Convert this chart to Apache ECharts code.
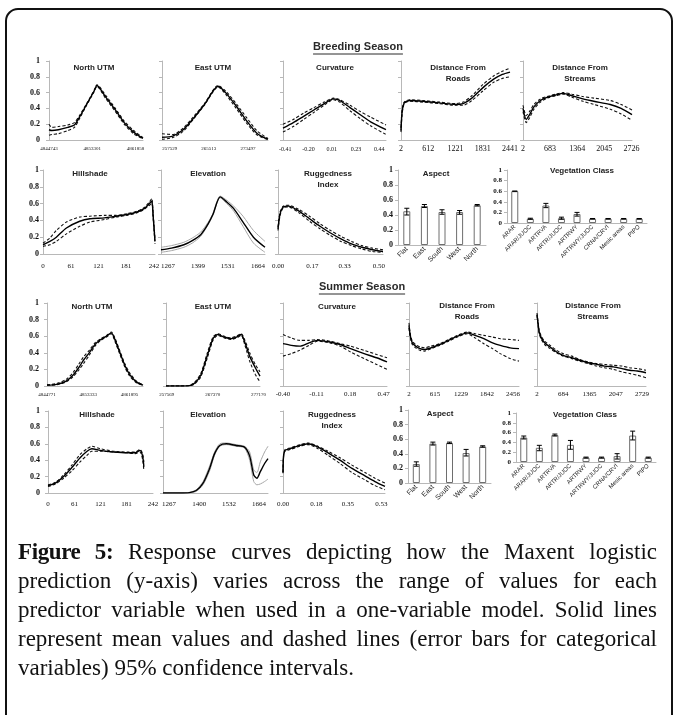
<!DOCTYPE html>
<html><head><meta charset="utf-8">
<script src="https://cdn.jsdelivr.net/npm/echarts@6/dist/echarts.min.js"></script>
<style>
html,body{margin:0;padding:0;width:678px;height:715px;overflow:hidden;background:#fff;}
#frame{position:absolute;left:5px;top:8px;width:664px;height:760px;border:2px solid #111;border-radius:13px;box-sizing:content-box;}
#chart{position:absolute;left:0;top:0;width:678px;height:715px;}
#caption{position:absolute;left:18px;top:537px;width:639px;font-family:'Liberation Serif','Times New Roman',serif;font-size:23px;line-height:29px;color:#111;}
#caption div{text-align:justify;text-align-last:justify;}
#caption div.last{text-align-last:left;}
#caption b{letter-spacing:-0.4px;}
</style></head><body>
<div id="frame"></div>
<div id="chart"></div>
<div id="caption">
<div><b>Figure 5:</b> Response curves depicting how the Maxent logistic</div>
<div>prediction (y-axis) varies across the range of values for each</div>
<div>predictor variable when used in a one-variable model. Solid lines</div>
<div>represent mean values and dashed lines (error bars for categorical</div>
<div class="last">variables) 95% confidence intervals.</div>
</div>
<script>
// ===================== DATA: Breeding season =====================
const bNorthTicks = ['4844743','4853301','4861858'];
const bNorthX    = [4844743,4845301,4846603,4848464,4849766,4850696,4852184,4853672,4854231,4855905,4857765,4859625,4861486,4863346];
const bNorthMean = [.13,.12,.13,.16,.19,.28,.45,.62,.69,.55,.39,.22,.10,.02];
const bNorthLo   = [.06,.07,.08,.12,.16,.26,.44,.61,.68,.53,.37,.20,.08,.015];
const bNorthHi   = [.20,.16,.17,.19,.22,.30,.46,.63,.70,.57,.41,.24,.12,.03];

const bEastTicks = ['257529','265513','273497'];
const bEastX    = [255970,258133,260296,262459,264622,267434,268948,271111,273274,275437,277600];
const bEastMean = [.035,.05,.13,.28,.45,.68,.60,.43,.24,.08,.01];
const bEastLo   = [.01,.03,.11,.27,.44,.67,.58,.40,.21,.06,.005];
const bEastHi   = [.08,.07,.15,.30,.46,.69,.62,.46,.28,.11,.02];

const bCurvTicks = ['-0.41','-0.20','0.01','0.23','0.44'];
const bCurvX    = [-0.43,-0.337,-0.244,-0.151,-0.058,0.026,0.082,0.175,0.268,0.361,0.50];
const bCurvMean = [.15,.22,.30,.38,.46,.52,.50,.41,.32,.23,.13];
const bCurvLo   = [.10,.17,.26,.35,.44,.51,.48,.37,.27,.18,.07];
const bCurvHi   = [.20,.26,.34,.41,.48,.53,.51,.44,.36,.29,.19];

const bRoadTicks = ['2','612','1221','1831','2441'];
const bRoadX    = [2,26,75,197,490,856,1222,1392,1587,1831,2075,2270,2441];
const bRoadMean = [.12,.35,.47,.50,.49,.47,.45,.46,.53,.66,.77,.83,.86];
const bRoadLo   = [.10,.32,.46,.49,.48,.46,.44,.44,.50,.62,.73,.78,.80];
const bRoadHi   = [.15,.38,.48,.51,.50,.48,.46,.48,.56,.70,.81,.87,.91];

const bStreamTicks = ['2','683','1364','2045','2726'];
const bStreamX    = [2,84,166,276,440,604,823,1015,1234,1508,1782,2192,2466,2740];
const bStreamMean = [.40,.26,.32,.42,.50,.54,.57,.59,.56,.52,.49,.45,.40,.32];
const bStreamLo   = [.36,.22,.28,.39,.48,.53,.56,.58,.54,.49,.45,.39,.33,.25];
const bStreamHi   = [.44,.31,.36,.45,.52,.55,.58,.60,.58,.55,.53,.50,.45,.38];

const bHillTicks = ['0','61','121','181','242'];
const bHillX    = [0,15,29,51,80,102,134,159,183,205,220,232,237,240,244];
const bHillMean = [.11,.15,.20,.31,.39,.42,.43,.45,.47,.50,.54,.60,.63,.45,.15];
const bHillLo   = [.09,.11,.15,.24,.33,.38,.41,.44,.46,.49,.53,.58,.61,.42,.12];
const bHillHi   = [.13,.19,.28,.38,.44,.45,.46,.46,.48,.51,.55,.62,.66,.48,.18];

const bElevTicks = ['1267','1399','1531','1664'];
const bElevX    = [1236,1282,1337,1374,1411,1442,1465,1497,1526,1557,1598,1644,1695];
const bElevMean = [.05,.07,.11,.16,.23,.35,.47,.68,.62,.54,.38,.20,.08];
const bElevLo   = [.02,.04,.08,.13,.21,.34,.46,.67,.60,.51,.33,.13,.02];
const bElevHi   = [.08,.10,.14,.19,.26,.37,.48,.69,.64,.57,.45,.28,.15];

const bRugTicks = ['0.00','0.17','0.33','0.50'];
const bRugX    = [0,0.0104,0.026,0.052,0.104,0.156,0.208,0.26,0.312,0.364,0.416,0.468,0.52];
const bRugMean = [.30,.48,.56,.57,.51,.42,.33,.25,.18,.12,.08,.05,.03];
const bRugLo   = [.28,.46,.55,.56,.49,.39,.30,.22,.15,.10,.06,.03,.02];
const bRugHi   = [.32,.50,.57,.58,.53,.45,.36,.28,.21,.15,.10,.07,.05];

const aspectCats = ['Flat','East','South','West','North'];
const bAspMean = [.45,.52,.44,.44,.53];
const bAspLo   = [.40,.50,.41,.41,.52];
const bAspHi   = [.49,.54,.47,.46,.54];

const vegCats = ['ARAR','ARAR/JUOC','ARTRVA','ARTR/JUOC','ARTRWY','ARTRWY/JUOC','CRNA/CRVI','Mesic areas','PIPO'];
const bVegMean = [.60,.08,.33,.09,.17,.08,.08,.08,.08];
const bVegLo   = [.60,.07,.29,.07,.13,.075,.075,.075,.075];
const bVegHi   = [.60,.09,.37,.11,.20,.085,.085,.085,.085];

// ===================== DATA: Summer season =====================
const sNorthTicks = ['4844771','4853333','4861895'];
const sNorthX    = [4844771,4846761,4848751,4850144,4851338,4852333,4853527,4854721,4855915,4857109,4858104,4858900,4859895,4860890,4861885,4863278,4864670];
const sNorthMean = [.01,.02,.06,.13,.22,.31,.40,.50,.56,.60,.64,.55,.40,.25,.14,.05,.01];
const sNorthLo   = [.01,.015,.05,.11,.19,.27,.37,.48,.55,.59,.63,.53,.38,.23,.12,.04,.01];
const sNorthHi   = [.015,.03,.08,.16,.26,.35,.43,.52,.57,.61,.65,.57,.42,.27,.16,.06,.015];

const sEastTicks = ['257569','267370','277170'];
const sEastX    = [257400,260415,262425,263430,264837,266244,267450,268455,269862,271269,272475,273480,274284,275289,276495,277500];
const sEastMean = [0,0,.005,.03,.13,.37,.57,.62,.59,.57,.59,.62,.52,.36,.22,.12];
const sEastLo   = [0,0,.003,.02,.11,.34,.55,.61,.58,.56,.58,.61,.49,.30,.14,.05];
const sEastHi   = [0,0,.008,.04,.15,.40,.59,.63,.60,.58,.60,.63,.55,.40,.26,.17];

const sCurvTicks = ['-0.40','-0.11','0.18','0.47'];
const sCurvX    = [-0.40,-0.328,-0.256,-0.175,-0.103,0.005,0.095,0.185,0.302,0.41,0.50];
const sCurvMean = [.51,.49,.48,.52,.55,.53,.50,.45,.39,.34,.29];
const sCurvLo   = [.36,.39,.43,.49,.54,.52,.48,.41,.33,.26,.20];
const sCurvHi   = [.62,.58,.55,.55,.56,.54,.51,.48,.43,.38,.34];

const sRoadTicks = ['2','615','1229','1842','2456'];
const sRoadX    = [2,28,80,158,262,366,522,729,937,1145,1379,1561,1769,1976,2158,2392,2600];
const sRoadMean = [.73,.62,.52,.48,.45,.44,.46,.50,.55,.60,.64,.61,.57,.52,.49,.46,.45];
const sRoadLo   = [.70,.60,.50,.46,.43,.42,.45,.49,.54,.59,.63,.58,.51,.45,.39,.33,.30];
const sRoadHi   = [.76,.64,.54,.50,.47,.46,.48,.51,.56,.61,.65,.63,.61,.59,.57,.56,.55];

const sStreamTicks = ['2','684','1365','2047','2729'];
const sStreamX    = [2,30,59,115,200,342,512,681,908,1106,1333,1559,1757,1984,2210,2408,2607,2833];
const sStreamMean = [.86,.75,.65,.58,.52,.47,.41,.37,.34,.31,.28,.26,.24,.23,.21,.19,.18,.16];
const sStreamLo   = [.85,.73,.63,.56,.50,.45,.40,.36,.33,.30,.27,.24,.22,.20,.17,.15,.13,.10];
const sStreamHi   = [.88,.77,.67,.60,.54,.49,.43,.39,.36,.32,.29,.27,.26,.25,.24,.22,.21,.19];

const sHillTicks = ['0','61','121','181','242'];
const sHillX    = [0,17,36,55,74,90,101,120,151,182,201,212,218,221];
const sHillMean = [.09,.12,.20,.31,.43,.51,.54,.52,.50,.49,.49,.52,.45,.32];
const sHillLo   = [.08,.11,.18,.27,.38,.46,.51,.51,.50,.49,.48,.50,.41,.27];
const sHillHi   = [.10,.13,.22,.34,.47,.54,.57,.54,.51,.50,.50,.53,.48,.38];

const sElevTicks = ['1267','1400','1532','1664'];
const sElevX    = [1240,1314,1357,1387,1417,1446,1468,1491,1520,1563,1600,1623,1641,1655,1670,1689,1704];
const sElevMean = [0,0,.005,.03,.12,.30,.48,.58,.60,.58,.56,.45,.22,.18,.26,.36,.42];
const sElevLo   = [0,0,.003,.02,.10,.27,.46,.57,.59,.57,.55,.40,.14,.10,.11,.14,.17];
const sElevHi   = [0,0,.008,.04,.14,.33,.50,.60,.61,.59,.57,.50,.28,.25,.38,.50,.57];

const sRugTicks = ['0.00','0.18','0.35','0.53'];
const sRugX    = [0,0.003,0.011,0.038,0.092,0.135,0.189,0.243,0.307,0.372,0.442,0.496,0.55];
const sRugMean = [.25,.45,.52,.54,.58,.60,.56,.49,.40,.30,.21,.14,.08];
const sRugLo   = [.24,.44,.51,.53,.57,.59,.54,.46,.36,.25,.16,.09,.04];
const sRugHi   = [.26,.46,.53,.55,.59,.61,.57,.51,.43,.34,.25,.18,.12];

const sAspMean = [.26,.54,.55,.41,.50];
const sAspLo   = [.23,.52,.54,.37,.49];
const sAspHi   = [.29,.56,.56,.46,.51];

const sVegMean = [.50,.29,.55,.35,.09,.09,.12,.54,.09];
const sVegLo   = [.47,.23,.53,.26,.08,.08,.06,.45,.08];
const sVegHi   = [.53,.34,.57,.44,.10,.10,.17,.63,.10];

// ===================== LAYOUT =====================
const SERIF = "'Liberation Serif','Times New Roman',serif";
const SANS = "'Liberation Sans',Arial,sans-serif";

const linePanels = [
  {title:['North UTM'], tx:94, ty:68, box:[49,61,143,140], xmin:4844743, xmax:4863346, ticks:bNorthTicks, fs:5, lm:6, x:bNorthX, m:bNorthMean, lo:bNorthLo, hi:bNorthHi, yl:true, ym:9},
  {title:['East UTM'], tx:213, ty:68, box:[162,61,268,140], xmin:255970, xmax:277600, ticks:bEastTicks, fs:5, lm:6, x:bEastX, m:bEastMean, lo:bEastLo, hi:bEastHi},
  {title:['Curvature'], tx:335, ty:68, box:[283,61,386,140], xmin:-0.43, xmax:0.50, ticks:bCurvTicks, fs:6, lm:6, x:bCurvX, m:bCurvMean, lo:bCurvLo, hi:bCurvHi},
  {title:['Distance From','Roads'], tx:458, ty:68, box:[401,61,510,140], xmin:2, xmax:2441, ticks:bRoadTicks, fs:8, lm:5, x:bRoadX, m:bRoadMean, lo:bRoadLo, hi:bRoadHi},
  {title:['Distance From','Streams'], tx:580, ty:68, box:[523,61,632,140], xmin:2, xmax:2740, ticks:bStreamTicks, fs:8, lm:5, x:bStreamX, m:bStreamMean, lo:bStreamLo, hi:bStreamHi},
  {title:['Hillshade'], tx:90, ty:174, box:[43,170,155,254], xmin:0, xmax:244, ticks:bHillTicks, fs:7, lm:9, x:bHillX, m:bHillMean, lo:bHillLo, hi:bHillHi, yl:true, ym:4},
  {title:['Elevation'], tx:208, ty:174, box:[161,170,265,254], xmin:1236, xmax:1695, ticks:bElevTicks, fs:7, lm:9, x:bElevX, m:bElevMean, lo:bElevLo, hi:bElevHi, gray:true},
  {title:['Ruggedness','Index'], tx:328, ty:174, box:[278,170,383,254], xmin:0, xmax:0.52, ticks:bRugTicks, fs:7, lm:9, x:bRugX, m:bRugMean, lo:bRugLo, hi:bRugHi},
  {title:['North UTM'], tx:92, ty:307, box:[47,303,143,386], xmin:4844771, xmax:4864670, ticks:sNorthTicks, fs:5, lm:6, x:sNorthX, m:sNorthMean, lo:sNorthLo, hi:sNorthHi, yl:true, ym:8},
  {title:['East UTM'], tx:213, ty:307, box:[166,303,260,386], xmin:257400, xmax:277500, ticks:sEastTicks, fs:5, lm:6, x:sEastX, m:sEastMean, lo:sEastLo, hi:sEastHi},
  {title:['Curvature'], tx:337, ty:307, box:[283,303,387,386], xmin:-0.40, xmax:0.50, ticks:sCurvTicks, fs:7, lm:5, x:sCurvX, m:sCurvMean, lo:sCurvLo, hi:sCurvHi},
  {title:['Distance From','Roads'], tx:467, ty:306, box:[409,303,519,386], xmin:2, xmax:2600, ticks:sRoadTicks, fs:7, lm:5, x:sRoadX, m:sRoadMean, lo:sRoadLo, hi:sRoadHi},
  {title:['Distance From','Streams'], tx:593, ty:306, box:[537,303,646,386], xmin:2, xmax:2833, ticks:sStreamTicks, fs:7, lm:5, x:sStreamX, m:sStreamMean, lo:sStreamLo, hi:sStreamHi},
  {title:['Hillshade'], tx:97, ty:415, box:[48,411,153,493], xmin:0, xmax:242, ticks:sHillTicks, fs:7, lm:8, x:sHillX, m:sHillMean, lo:sHillLo, hi:sHillHi, yl:true, ym:8},
  {title:['Elevation'], tx:208, ty:415, box:[163,411,268,493], xmin:1240, xmax:1704, ticks:sElevTicks, fs:7, lm:8, x:sElevX, m:sElevMean, lo:sElevLo, hi:sElevHi, gray:true},
  {title:['Ruggedness','Index'], tx:332, ty:415, box:[283,411,385,493], xmin:0, xmax:0.55, ticks:sRugTicks, fs:7, lm:8, x:sRugX, m:sRugMean, lo:sRugLo, hi:sRugHi}
];

const barPanels = [
  {title:['Aspect'], tx:436, ty:174, box:[398,170,486,245], cats:aspectCats, m:bAspMean, lo:bAspLo, hi:bAspHi, fs:7, yfs:8, bw:7},
  {title:['Vegetation Class'], tx:582, ty:171, box:[507,170,647,223], cats:vegCats, m:bVegMean, lo:bVegLo, hi:bVegHi, fs:6, yfs:7, bw:7},
  {title:['Aspect'], tx:440, ty:414, box:[408,410,491,483], cats:aspectCats, m:sAspMean, lo:sAspLo, hi:sAspHi, fs:7, yfs:8, bw:7},
  {title:['Vegetation Class'], tx:585, ty:415, box:[516,413,656,462], cats:vegCats, m:sVegMean, lo:sVegLo, hi:sVegHi, fs:6, yfs:7, bw:7}
];

const seasonTitles = [
  {text:'Breeding Season', x:358, y:47},
  {text:'Summer Season', x:362, y:287}
];

// ===================== BUILD =====================
const grids = [], xAxes = [], yAxes = [], series = [], graphics = [];
const AXIS = '#b8b8b8';
const pairs = (xs, ys) => xs.map((x, i) => [x, ys[i]]);

function addTitle(lines, x, y) {
  lines.forEach((t, k) => graphics.push({type:'text', x:x, y:y + k*10.5, silent:true,
    style:{text:t, align:'center', verticalAlign:'middle', fontSize:8, fontWeight:'bold', fontFamily:SANS, fill:'#222'}}));
}
function gridOf(b) { return {left:b[0], top:b[1], width:b[2]-b[0], height:b[3]-b[1], containLabel:false}; }

linePanels.forEach((p) => {
  const gi = grids.length;
  grids.push(gridOf(p.box));
  const ticks = p.ticks, vals = ticks.map(Number);
  xAxes.push({type:'value', gridIndex:gi, min:p.xmin, max:p.xmax,
    axisLine:{show:true, onZero:false, lineStyle:{color:AXIS, width:1}}, axisTick:{show:false}, splitLine:{show:false},
    axisLabel:{show:true, customValues:vals, margin:p.lm, fontSize:p.fs, fontFamily:SERIF, color:'#111',
      formatter:(v) => { let b = 0; vals.forEach((t, k) => { if (Math.abs(t - v) < Math.abs(vals[b] - v)) b = k; }); return ticks[b]; }}});
  yAxes.push({type:'value', gridIndex:gi, min:0, max:1, interval:0.2,
    axisLine:{show:true, onZero:false, lineStyle:{color:AXIS, width:1}}, axisTick:{show:true, length:3, lineStyle:{color:AXIS}},
    splitLine:{show:false},
    axisLabel:{show:!!p.yl, margin:p.ym || 6, fontSize:8, fontWeight:'bold', fontFamily:SERIF, color:'#111'}});
  const ci = p.gray ? {color:'#a6a6a6', width:1, type:'solid'} : {color:'#111', width:1.1, type:[3,2]};
  [p.lo, p.hi].forEach((arr) => series.push({type:'line', xAxisIndex:gi, yAxisIndex:gi, data:pairs(p.x, arr),
    showSymbol:false, smooth:0.25, lineStyle:ci, silent:true, z:2}));
  series.push({type:'line', xAxisIndex:gi, yAxisIndex:gi, data:pairs(p.x, p.m), showSymbol:false, smooth:0.25,
    lineStyle:{color:'#000', width:1.4}, silent:true, z:3});
  addTitle(p.title, p.tx, p.ty);
});

barPanels.forEach((p) => {
  const gi = grids.length;
  grids.push(gridOf(p.box));
  xAxes.push({type:'category', gridIndex:gi, data:p.cats,
    axisLine:{show:true, onZero:false, lineStyle:{color:AXIS}}, axisTick:{show:false},
    axisLabel:{interval:0, rotate:45, margin:3, fontSize:p.fs, fontFamily:SANS, color:'#222'}});
  yAxes.push({type:'value', gridIndex:gi, min:0, max:1, interval:0.2,
    axisLine:{show:true, onZero:false, lineStyle:{color:AXIS}}, axisTick:{show:true, length:3, lineStyle:{color:AXIS}},
    splitLine:{show:false},
    axisLabel:{margin:5, fontSize:p.yfs, fontWeight:'bold', fontFamily:SERIF, color:'#111'}});
  series.push({type:'bar', xAxisIndex:gi, yAxisIndex:gi, data:p.m, barWidth:p.bw,
    itemStyle:{color:'#fff', borderColor:'#6e6e6e', borderWidth:1}, silent:true});
  series.push({type:'custom', xAxisIndex:gi, yAxisIndex:gi, silent:true, z:5,
    data:p.cats.map((c, i) => [i, p.lo[i], p.hi[i]]),
    encode:{x:0, y:[1,2]},
    renderItem:(params, api) => {
      const a = api.coord([api.value(0), api.value(1)]);
      const b = api.coord([api.value(0), api.value(2)]);
      const w = 2.5, st = {stroke:'#000', lineWidth:1};
      return {type:'group', children:[
        {type:'line', shape:{x1:a[0], y1:a[1], x2:b[0], y2:b[1]}, style:st},
        {type:'line', shape:{x1:a[0]-w, y1:a[1], x2:a[0]+w, y2:a[1]}, style:st},
        {type:'line', shape:{x1:b[0]-w, y1:b[1], x2:b[0]+w, y2:b[1]}, style:st}
      ]};
    }});
  addTitle(p.title, p.tx, p.ty);
});

const meas = document.createElement('canvas').getContext('2d');
seasonTitles.forEach((s) => {
  meas.font = 'bold 11px ' + SANS;
  const w = meas.measureText(s.text).width;
  graphics.push({type:'text', x:s.x, y:s.y, silent:true,
    style:{text:s.text, align:'center', verticalAlign:'middle', fontSize:11, fontWeight:'bold', fontFamily:SANS, fill:'#2a2a2a'}});
  graphics.push({type:'line', silent:true, shape:{x1:s.x - w/2, y1:s.y + 7, x2:s.x + w/2, y2:s.y + 7},
    style:{stroke:'#2a2a2a', lineWidth:1}});
});

const chart = echarts.init(document.getElementById('chart'), null, {renderer:'canvas'});
chart.setOption({
  animation:false,
  backgroundColor:'transparent',
  grid:grids, xAxis:xAxes, yAxis:yAxes, series:series, graphic:graphics
});
</script>
</body></html>
